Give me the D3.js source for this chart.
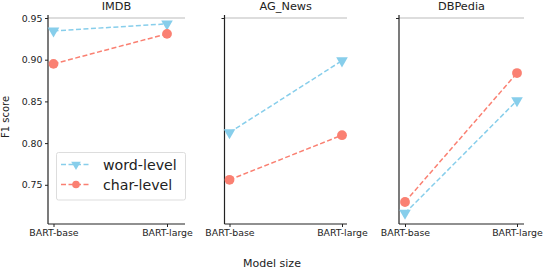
<!DOCTYPE html>
<html><head><meta charset="utf-8">
<script src="https://cdn.jsdelivr.net/npm/d3@7"></script>
<style>body{margin:0;background:#fff}svg{display:block}text{font-family:"DejaVu Sans",sans-serif}</style>
</head><body><svg id="c" width="544" height="268"></svg>
<script>
const models = ["BART-base", "BART-large"];
const datasets = ["IMDB", "AG_News", "DBPedia"];
const wordLevel = [[0.9345, 0.943], [0.8127, 0.8988], [0.716, 0.851]];
const charLevel = [[0.895, 0.931], [0.756, 0.8095], [0.7294, 0.884]];
const yTicks = [0.75, 0.80, 0.85, 0.90, 0.95];
const seriesNames = ["word-level", "char-level"];
const colors = ["#87CEEB", "#FA8072"];

(function () {
const svg = d3.select("#c");
const panels = [
  {x0: 48, x1: 185, xr: [53.5, 167]},
  {x0: 224.5, x1: 347, xr: [229.5, 342]},
  {x0: 399, x1: 524, xr: [405, 517]}
];
const yTop = 15, yBot = 224;
const y = d3.scaleLinear().domain([0.703, 0.9536]).range([yBot, yTop]);

panels.forEach((p, i) => {
  const g = svg.append("g");
  const x = d3.scalePoint().domain(models).range(p.xr);
  g.append("line").attr("x1", p.x0).attr("x2", p.x1).attr("y1", y(0.95)).attr("y2", y(0.95))
    .attr("stroke", "#bbbbbb").attr("stroke-width", 1);
  const ya = d3.axisLeft(y).tickValues(i === 0 ? yTicks : [0.95]).tickFormat(i === 0 ? d3.format(".2f") : () => "").tickSize(3).tickPadding(2.5);
  const yg = g.append("g").attr("transform", `translate(${p.x0},0)`).call(ya);
  yg.select(".domain").attr("d", `M0,${yTop}V${yBot}`).attr("stroke", "#222").attr("stroke-width", 1.2);
  yg.selectAll("text").attr("font-size", 9.4).attr("fill", "#222");
  yg.selectAll(".tick line").attr("stroke", "#222");
  const xa = d3.axisBottom(x).tickSize(3).tickPadding(2.5);
  const xg = g.append("g").attr("transform", `translate(0,${yBot})`).call(xa);
  xg.select(".domain").attr("d", `M${p.x0},0H${p.x1}`).attr("stroke", "#222").attr("stroke-width", 1.2);
  xg.selectAll("text").attr("font-size", 9.4).attr("fill", "#222");
  xg.selectAll(".tick line").attr("stroke", "#222");
  g.append("text").attr("x", (p.x0 + p.x1) / 2).attr("y", 10).attr("text-anchor", "middle")
    .attr("font-size", 11.3).attr("fill", "#222").text(datasets[i]);
  [wordLevel[i], charLevel[i]].forEach((vals, s) => {
    const line = d3.line().x((d, k) => x(models[k])).y(d => y(d));
    g.append("path").attr("d", line(vals)).attr("fill", "none").attr("stroke", colors[s])
      .attr("stroke-width", 1.5).attr("stroke-dasharray", "5,2.5");
    vals.forEach((v, k) => {
      const cx = x(models[k]), cy = y(v);
      if (s === 0) {
        g.append("path").attr("d", d3.symbol().type(d3.symbolTriangle).size(58)())
          .attr("transform", `translate(${cx},${cy}) rotate(180)`).attr("fill", colors[s]);
      } else {
        g.append("circle").attr("cx", cx).attr("cy", cy).attr("r", 4.9).attr("fill", colors[s]);
      }
    });
  });
});

svg.append("text").attr("x", 272).attr("y", 266.5).attr("text-anchor", "middle").attr("font-size", 11).attr("fill", "#222").text("Model size");
svg.append("text").attr("transform", "translate(8.5,117) rotate(-90)").attr("text-anchor", "middle").attr("font-size", 10).attr("fill", "#222").text("F1 score");

const lg = svg.append("g");
lg.append("rect").attr("x", 56.5).attr("y", 152.5).attr("width", 129).attr("height", 47.5).attr("rx", 2)
  .attr("fill", "#fff").attr("fill-opacity", 0.8).attr("stroke", "#dddddd");
seriesNames.forEach((n, s) => {
  const ly = 164.5 + s * 20;
  lg.append("line").attr("x1", 61).attr("x2", 90).attr("y1", ly).attr("y2", ly).attr("stroke", colors[s])
    .attr("stroke-width", 1.5).attr("stroke-dasharray", "5,2.5");
  if (s === 0) {
    lg.append("path").attr("d", d3.symbol().type(d3.symbolTriangle).size(40)())
      .attr("transform", `translate(76,${ly}) rotate(180)`).attr("fill", colors[s]);
  } else {
    lg.append("circle").attr("cx", 76).attr("cy", ly).attr("r", 3.8).attr("fill", colors[s]);
  }
  lg.append("text").attr("x", 103).attr("y", ly + 5).attr("font-size", 14.2).attr("fill", "#222").text(n);
});
})();
</script></body></html>
